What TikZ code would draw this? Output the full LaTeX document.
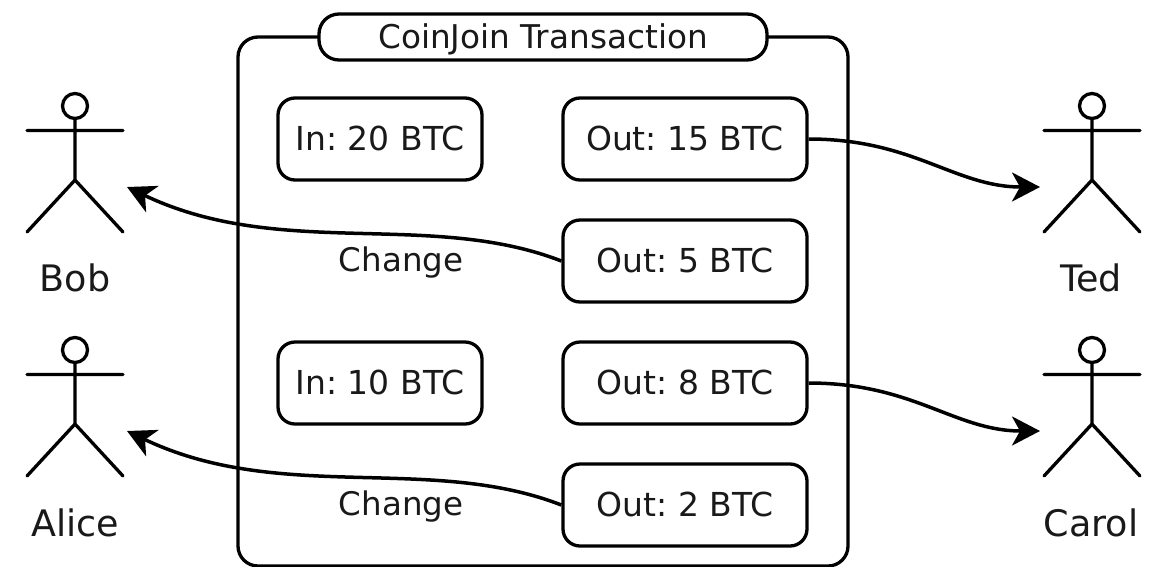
\documentclass[tikz,border=0pt]{standalone}
\usepackage{fontspec}
\setmainfont{DejaVu Sans}
\usetikzlibrary{arrows.meta}
\tikzset{
 x=1pt,y=-1pt,
 box/.style={draw=black,line width=3.3pt,rounded corners=17pt,minimum width=#1,minimum height=82pt,inner sep=0pt,text height=24.5pt,text depth=2pt,font=\fontsize{33}{36}\selectfont,text=black!90},
 lab/.style={font=\fontsize{32.5}{36}\selectfont,inner sep=0pt,text=black!90},
 actorlab/.style={font=\fontsize{36.5}{40}\selectfont,inner sep=0pt,text=black!90},
 ln/.style={line width=3.3pt,line cap=round},
 arr/.style={line width=3.5pt,-{Stealth[length=28pt,width=29pt,inset=8pt]}}
}
\newcommand{\actor}[3]{%
 \coordinate (#3) at (#1,#2);
 \draw[ln] (#1,#2) circle (12.5);
 \draw[ln] (#1,#2+12.5) -- (#1,#2+74) (#1-48,#2+24.5) -- (#1+48,#2+24.5) (#1-48,#2+126) -- (#1,#2+74) -- (#1+48,#2+126);
}
\begin{document}
\frenchspacing
\begin{tikzpicture}
\useasboundingbox (0,0) rectangle (1159,566);
\draw[line width=3.3pt,rounded corners=20pt] (238,90) -- (238,37) -- (848,37) -- (848,566) -- (238,566) -- cycle;
\node[draw=black,fill=white,line width=3.3pt,rounded corners=20pt,minimum width=448pt,minimum height=46pt,inner sep=0pt,text height=26pt,text depth=4pt,font=\fontsize{32.7}{36}\selectfont,text=black!90] (title) at (543,37) {CoinJoin Transaction};
\node[box=204pt] (in20) at (380,139) {In: 20 BTC};
\node[box=244pt] (o15) at (685,139) {Out: 15 BTC};
\node[box=244pt] (o5) at (685,261) {Out: 5 BTC};
\node[box=204pt] (in10) at (380,383) {In: 10 BTC};
\node[box=244pt] (o8) at (685,383) {Out: 8 BTC};
\node[box=244pt] (o2) at (685,505) {Out: 2 BTC};
\node[lab] (c1) at (401,263) {Change};
\node[lab] (c2) at (401,507) {Change};
\actor{75}{106}{bob}
\actor{75}{350}{alice}
\actor{1092}{106}{ted}
\actor{1092}{350}{carol}
\node[actorlab] (nb) at (75,278) {Bob};
\node[actorlab] (na) at (75,523) {Alice};
\node[actorlab] (nt) at (1091,278) {Ted};
\node[actorlab] (nc) at (1091,523) {Carol};
\coordinate (bobp) at (127,187);
\coordinate (alicep) at (127,431);
\coordinate (tedp) at (1040,187);
\coordinate (carolp) at (1040,431);
\draw[arr] (o15.east) .. controls +(105,0) and +(-85,0) .. (tedp);
\draw[arr] (o8.east) .. controls +(105,0) and +(-85,0) .. (carolp);
\draw[arr] (o5.west) .. controls (430,210) and (280,260) .. (bobp);
\draw[arr] (o2.west) .. controls (430,454) and (280,504) .. (alicep);
\end{tikzpicture}
\end{document}
